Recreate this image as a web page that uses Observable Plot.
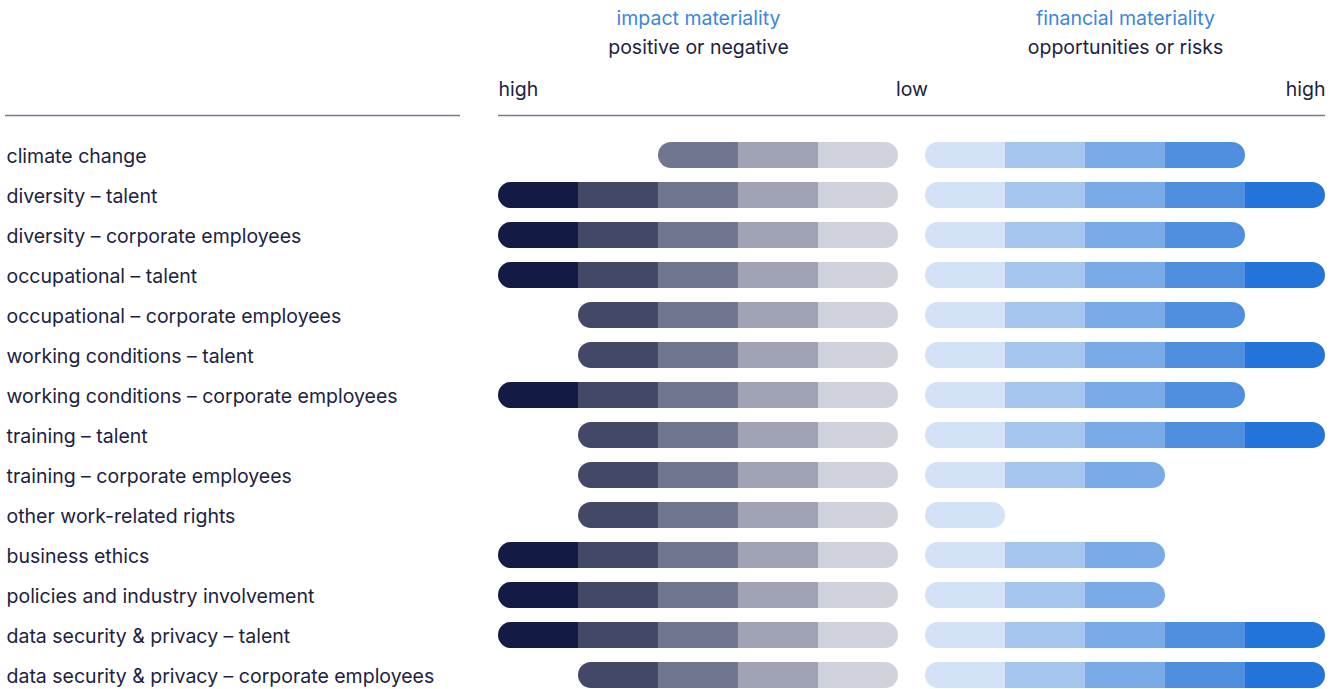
<!DOCTYPE html>
<html><head><meta charset="utf-8">
<script src="https://cdn.jsdelivr.net/npm/d3@7"></script>
<script src="https://cdn.jsdelivr.net/npm/@observablehq/plot@0.6"></script>
<style>body{margin:0;background:#fff;font-family:Inter,sans-serif}</style>
</head><body><div id="chart"></div>
<script>
const categories = [
  "climate change",
  "diversity – talent",
  "diversity – corporate employees",
  "occupational – talent",
  "occupational – corporate employees",
  "working conditions – talent",
  "working conditions – corporate employees",
  "training – talent",
  "training – corporate employees",
  "other work-related rights",
  "business ethics",
  "policies and industry involvement",
  "data security & privacy – talent",
  "data security & privacy – corporate employees"
];
const impactLevels =    [3,5,5,5,4,4,5,4,4,4,5,5,5,4];
const financialLevels = [4,5,4,5,4,5,4,5,3,1,3,3,5,5];
const impactColors = ["#cfd2da","#a0a3b3","#707590","#424866","#131b45"];
const financialColors = ["#d3e2f7","#a6c6ef","#7aabe6","#4e8fe0","#2274d8"];
const groupTitles = ["impact materiality","financial materiality"];
const groupSubtitles = ["positive or negative","opportunities or risks"];
const scaleLabels = ["high","low","high"];

const TEXT = "#1c2242", BLUE = "#3a86df", RULE = "#747891";
const FS = 19.5;
const gap = 27/80; // space between the two scales, in level units

function pieces(cat, level, side) {
  const out = [];
  for (let k = 1; k <= level; k++) {
    const a = side === "impact" ? -gap - k : k - 1;
    const b = side === "impact" ? -gap - (k - 1) : k;
    const fill = (side === "impact" ? impactColors : financialColors)[k - 1];
    const lowEnd = k === 1, highEnd = k === level;
    if (!lowEnd && !highEnd) { out.push({cat, x1: a, x2: b, fill, round: false}); continue; }
    out.push({cat, x1: a, x2: b, fill, round: true});
    if (lowEnd && highEnd) continue;
    const mid = (a + b) / 2;
    const interiorLeft = side === "impact" ? lowEnd : highEnd;
    out.push(interiorLeft ? {cat, x1: a, x2: mid, fill, round: false} : {cat, x1: mid, x2: b, fill, round: false});
  }
  return out;
}
const segs = categories.flatMap((c, i) => [
  ...pieces(c, impactLevels[i], "impact"),
  ...pieces(c, financialLevels[i], "financial")
]);

const impactHigh = -gap - 5, impactLow = -gap, finLow = 0, finHigh = 5;
const titleData = [
  {x: (impactHigh + impactLow) / 2, t: groupTitles[0], s: groupSubtitles[0]},
  {x: (finLow + finHigh) / 2, t: groupTitles[1], s: groupSubtitles[1]}
];
const ruleData = [
  {x1: -920/80, x2: -465/80},
  {x1: impactHigh, x2: finHigh}
];
const headOpts = {frameAnchor: "top", lineAnchor: "middle", fontSize: FS};

const chart = Plot.plot({
  width: 1343, height: 689, margin: 0,
  x: {domain: [-925/80, 418/80], range: [0, 1343], axis: null},
  y: {type: "band", domain: categories, range: [135, 695], paddingInner: 0.35, paddingOuter: 0.175, axis: null},
  color: {type: "identity"},
  style: {fontFamily: "Inter, sans-serif", fontSize: FS + "px", color: TEXT, background: "#fff"},
  marks: [
    Plot.barX(segs.filter(d => d.round), {x1: "x1", x2: "x2", y: "cat", fill: "fill", rx: 13}),
    Plot.barX(segs.filter(d => !d.round), {x1: "x1", x2: "x2", y: "cat", fill: "fill"}),
    Plot.text(categories, {y: d => d, text: d => d, frameAnchor: "left", dx: 6, dy: 1, textAnchor: "start", fill: TEXT, fontSize: FS}),
    Plot.text(titleData, {x: "x", text: "t", dy: 18, fill: BLUE, ...headOpts}),
    Plot.text(titleData, {x: "x", text: "s", dy: 47, fill: TEXT, ...headOpts}),
    Plot.text([scaleLabels[0]], {x: () => impactHigh, text: d => d, textAnchor: "start", dy: 89, fill: TEXT, ...headOpts}),
    Plot.text([scaleLabels[1]], {x: () => (impactLow + finLow) / 2, text: d => d, textAnchor: "middle", dy: 89, fill: TEXT, ...headOpts}),
    Plot.text([scaleLabels[2]], {x: () => finHigh, text: d => d, textAnchor: "end", dy: 89, fill: TEXT, ...headOpts}),
    Plot.ruleY(ruleData, {y: () => categories[0], x1: "x1", x2: "x2", dy: -40, stroke: RULE, strokeWidth: 1.5})
  ]
});
document.getElementById("chart").append(chart);
</script>
</body></html>
